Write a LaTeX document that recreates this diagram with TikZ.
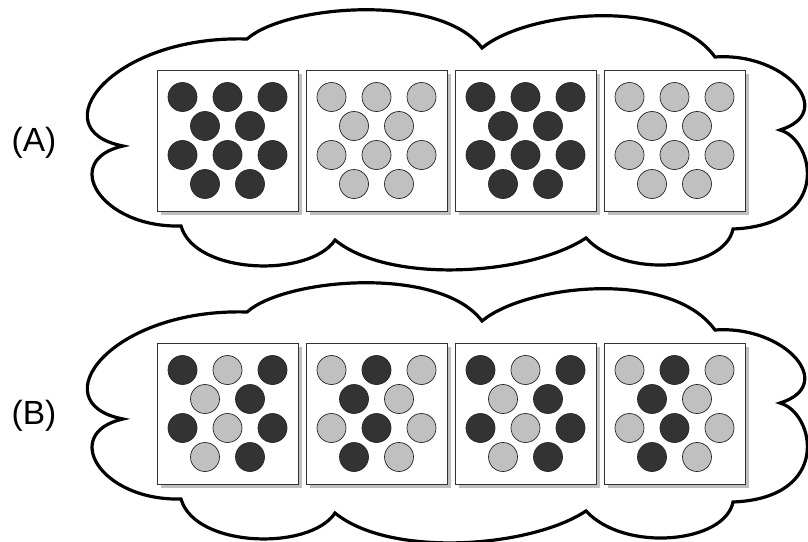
\documentclass[tikz,border=0pt]{standalone}
\usepackage{fontspec}
\setmainfont{Liberation Sans}
\usepackage{xcolor}
\usepackage{tikz}
\usetikzlibrary{shadows}

\definecolor{darkdot}{HTML}{333333}
\definecolor{lightdot}{HTML}{C0C0C0}

\tikzset{
  cloudline/.style={line width=3.2pt},
  panel/.style={draw=black!80, line width=0.9pt, fill=white, minimum width=141pt, minimum height=141pt, inner sep=0pt,
    drop shadow={shadow xshift=4pt, shadow yshift=-4pt, fill=black!25, opacity=1}},
  dot/.style={circle, draw=black!85, line width=0.7pt, minimum size=29pt, inner sep=0pt},
  caselabel/.style={font=\fontsize{33.5}{40}\selectfont}
}

\begin{document}
\begin{tikzpicture}[x=1pt,y=-1pt]
\useasboundingbox (0,0) rectangle (808,541);

% clouds
\foreach \dy in {0,273} {
  \draw[cloudline, shift={(0,\dy)}] (247,39)
    .. controls (285,5) and (440,-8) .. (482,48)
    .. controls (525,12) and (670,-5) .. (715,57)
    .. controls (785,52) and (838,112) .. (780,130)
    .. controls (815,140) and (832,225) .. (733,229)
    .. controls (725,270) and (625,280) .. (586,238)
    .. controls (530,275) and (390,285) .. (335,240)
    .. controls (310,278) and (195,275) .. (181,226)
    .. controls (100,228) and (60,160) .. (123,146)
    .. controls (40,130) and (110,35) .. (247,39) -- cycle;
}

% panels with their dots
\foreach \xc/\yc/\ca/\cb [count=\n] in {
  227.5/140.5/darkdot/darkdot, 376.5/140.5/lightdot/lightdot,
  525.5/140.5/darkdot/darkdot, 674.5/140.5/lightdot/lightdot,
  227.5/413.5/darkdot/lightdot, 376.5/413.5/lightdot/darkdot,
  525.5/413.5/darkdot/lightdot, 674.5/413.5/lightdot/darkdot} {
  \node[panel] (box\n) at (\xc,\yc) {};
  \colorlet{dot0}{\ca}
  \colorlet{dot1}{\cb}
  \foreach \dx/\dy/\p [count=\m] in {-45/-43.5/0, 0/-43.5/1, 45/-43.5/0,
      -22.5/-14.5/1, 22.5/-14.5/0, -45/14.5/0, 0/14.5/1, 45/14.5/0,
      -22.5/43.5/1, 22.5/43.5/0}
    \node[dot, fill=dot\p] (box\n-\m) at ({\xc+\dx},{\yc+\dy}) {};
}

\node[caselabel] (labA) at (34,142.5) {(A)};
\node[caselabel] (labB) at (34,415.5) {(B)};
\end{tikzpicture}
\end{document}
